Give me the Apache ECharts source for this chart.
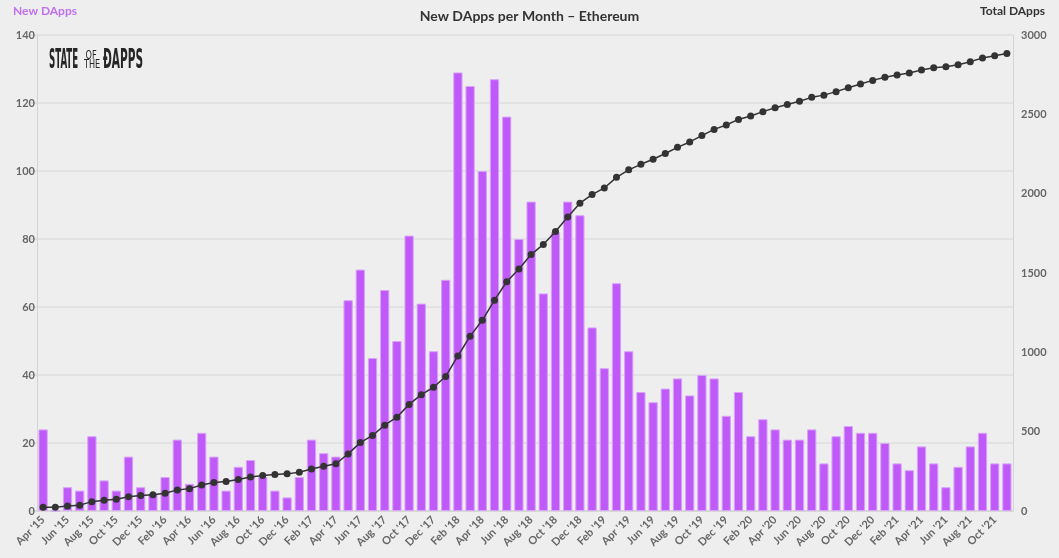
<!DOCTYPE html>
<html>
<head>
<meta charset="utf-8">
<script src="https://cdn.jsdelivr.net/npm/echarts@6/dist/echarts.min.js"></script>
<style>
html,body{margin:0;padding:0;background:#eeeeee;}
#c{width:1059px;height:558px;}
</style>
</head>
<body>
<div id="c"></div>
<script>
const months = [
  "Apr '15","May '15","Jun '15","Jul '15","Aug '15","Sep '15","Oct '15","Nov '15","Dec '15",
  "Jan '16","Feb '16","Mar '16","Apr '16","May '16","Jun '16","Jul '16","Aug '16","Sep '16","Oct '16","Nov '16","Dec '16",
  "Jan '17","Feb '17","Mar '17","Apr '17","May '17","Jun '17","Jul '17","Aug '17","Sep '17","Oct '17","Nov '17","Dec '17",
  "Jan '18","Feb '18","Mar '18","Apr '18","May '18","Jun '18","Jul '18","Aug '18","Sep '18","Oct '18","Nov '18","Dec '18",
  "Jan '19","Feb '19","Mar '19","Apr '19","May '19","Jun '19","Jul '19","Aug '19","Sep '19","Oct '19","Nov '19","Dec '19",
  "Jan '20","Feb '20","Mar '20","Apr '20","May '20","Jun '20","Jul '20","Aug '20","Sep '20","Oct '20","Nov '20","Dec '20",
  "Jan '21","Feb '21","Mar '21","Apr '21","May '21","Jun '21","Jul '21","Aug '21","Sep '21","Oct '21","Nov '21"
];
const newDapps = [
  24,0,7,6,22,9,6,16,7,
  5,10,21,8,23,16,6,13,15,10,6,4,
  10,21,17,16,62,71,45,65,50,81,61,47,
  68,129,125,100,127,116,80,91,64,82,91,87,
  54,42,67,47,35,32,36,39,34,40,39,28,
  35,22,27,24,21,21,24,14,22,25,23,23,
  20,14,12,19,14,7,13,19,23,14,14
];
const totalDapps = [
  24,24,31,37,59,68,74,90,97,
  102,112,133,141,164,180,186,199,214,224,230,234,
  244,265,282,298,360,431,476,541,591,672,733,780,
  848,977,1102,1202,1329,1445,1525,1616,1680,1762,1853,1940,
  1994,2036,2103,2150,2185,2217,2253,2292,2326,2366,2405,2433,
  2468,2490,2517,2541,2562,2583,2607,2621,2643,2668,2691,2714,
  2734,2748,2760,2779,2793,2800,2813,2832,2855,2869,2883
];
const leftTicks = {min:0, max:140, interval:20};
const rightTicks = {min:0, max:3000, interval:500};

const chart = echarts.init(document.getElementById('c'));
const labelFont = 'Lato';
chart.setOption({
  backgroundColor:'#eeeeee',
  animation:false,
  textStyle:{fontFamily:labelFont},
  title:{
    text:'New DApps per Month \u2013 Ethereum',
    left:'center', top:4,
    textStyle:{fontSize:14, fontWeight:'bold', color:'#333', fontFamily:labelFont}
  },
  grid:{left:37, right:46, top:35, bottom:47, containLabel:false},
  xAxis:{
    type:'category',
    data:months,
    axisLine:{lineStyle:{color:'#d4d4d4', width:1.5}},
    axisTick:{show:false},
    axisLabel:{interval:1, rotate:45, fontSize:11, color:'#666', fontWeight:'bold', margin:7}
  },
  yAxis:[
    {
      type:'value', min:leftTicks.min, max:leftTicks.max, interval:leftTicks.interval,
      axisLine:{show:true, lineStyle:{color:'#d4d4d4', width:1}},
      axisTick:{show:true, length:7, lineStyle:{color:'#dcdcdc', width:1.5}},
      axisLabel:{fontSize:11, color:'#666', fontWeight:'bold', margin:2},
      splitLine:{lineStyle:{color:'#dedede', width:1.5}}
    },
    {
      type:'value', min:rightTicks.min, max:rightTicks.max, interval:rightTicks.interval,
      position:'right',
      axisLine:{show:true, lineStyle:{color:'#d4d4d4', width:1}},
      axisTick:{show:false},
      axisLabel:{fontSize:11, color:'#666', fontWeight:'bold', margin:8, formatter:function(v){return String(v);}},
      splitLine:{show:false}
    }
  ],
  graphic:[
    {type:'text', left:13, top:5, style:{text:'New DApps', fill:'#c070f3', font:'bold 12px Lato'}},
    {type:'text', right:14, top:5, style:{text:'Total DApps', fill:'#333', font:'bold 12px Lato'}},
    {type:'text', x:49, y:61, scaleX:0.37, style:{text:'STATE', fill:'#262626', font:'bold 26px "DejaVu Sans Condensed"', textVerticalAlign:'middle'}},
    {type:'text', x:85.5, y:56, scaleX:0.68, style:{text:'OF', fill:'#262626', font:'12px "DejaVu Sans"', textVerticalAlign:'middle'}},
    {type:'text', x:84, y:65, scaleX:0.68, style:{text:'THE', fill:'#262626', font:'12px "DejaVu Sans"', textVerticalAlign:'middle'}},
    {type:'text', x:103, y:61, scaleX:0.45, style:{text:'\u0110APPS', fill:'#262626', font:'bold 26px "DejaVu Sans Condensed"', textVerticalAlign:'middle'}}
  ],
  series:[
    {
      name:'New DApps', type:'bar', data:newDapps, yAxisIndex:0,
      barCategoryGap:'24%',
      itemStyle:{color:'#bf5af9', borderColor:'#d9a3f8', borderWidth:1}
    },
    {
      name:'Total DApps', type:'line', data:totalDapps, yAxisIndex:1,
      symbol:'circle', symbolSize:7, z:5,
      lineStyle:{color:'#333', width:1.5},
      itemStyle:{color:'#333'}
    }
  ]
});
</script>
</body>
</html>
